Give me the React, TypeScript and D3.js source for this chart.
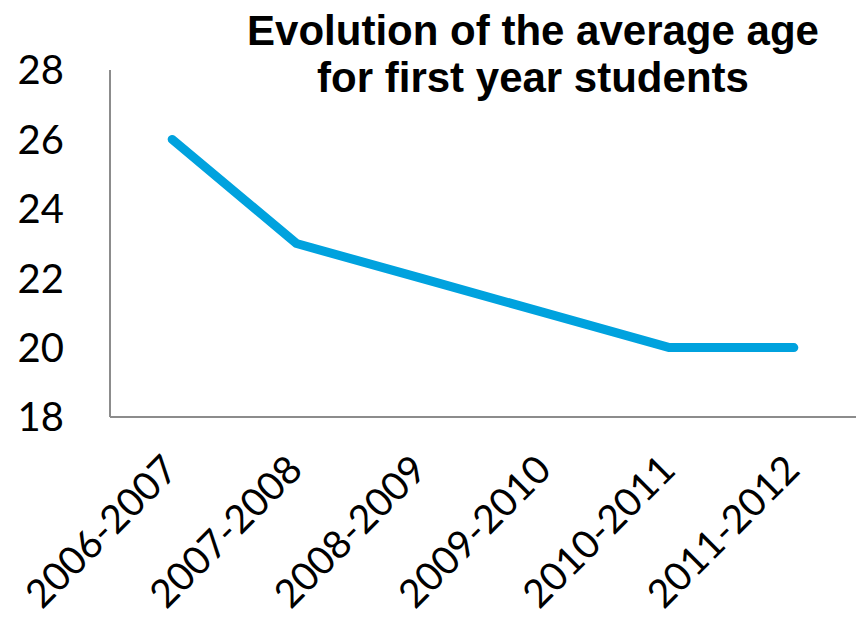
import * as d3 from 'd3'

const seasons = ['2006-2007', '2007-2008', '2008-2009', '2009-2010', '2010-2011', '2011-2012']
const averageAge = [26, 23, 22, 21, 20, 20]
const yTicks = [18, 20, 22, 24, 26, 28]
const titleLines = ['Evolution of the average age', 'for first year students']

export default function App() {
  const width = 856
  const height = 627
  const plot = { left: 110, right: 856, top: 70, bottom: 417 }

  const x = d3.scaleBand<string>().domain(seasons).range([plot.left, plot.right])
  const y = d3.scaleLinear().domain([18, 28]).range([plot.bottom, plot.top])

  const line = d3
    .line<number>()
    .x((_, i) => (x(seasons[i]) ?? 0) + x.bandwidth() / 2)
    .y((d) => y(d))

  const tickFont = 'Lato, "Open Sans", sans-serif'

  return (
    <svg
      width={width}
      height={height}
      style={{ position: 'absolute', left: 0, top: 0, background: '#fff' }}
    >
      {titleLines.map((t, i) => (
        <text
          key={t}
          x={533}
          y={45 + i * 47}
          textAnchor="middle"
          fontFamily='"Liberation Sans", Arial, sans-serif'
          fontWeight="bold"
          fontSize={42}
          fill="#000"
        >
          {t}
        </text>
      ))}

      {yTicks.map((tick) => (
        <text
          key={tick}
          x={64}
          y={y(tick)}
          dy="0.36em"
          textAnchor="end"
          fontFamily={tickFont}
          fontSize={40}
          fill="#000"
        >
          {tick}
        </text>
      ))}

      <line x1={plot.left} x2={plot.left} y1={plot.top} y2={plot.bottom} stroke="#8c8c8c" strokeWidth={2} />
      <line x1={plot.left} x2={plot.right} y1={plot.bottom} y2={plot.bottom} stroke="#8c8c8c" strokeWidth={2} />

      {seasons.map((s) => {
        const cx = (x(s) ?? 0) + x.bandwidth() / 2
        return (
          <text
            key={s}
            transform={`translate(${cx + 8}, 472) rotate(-45)`}
            textAnchor="end"
            fontFamily={tickFont}
            fontSize={39}
            fill="#000"
          >
            {s}
          </text>
        )
      })}

      <path
        d={line(averageAge) ?? ''}
        fill="none"
        stroke="#00a2de"
        strokeWidth={9}
        strokeLinecap="round"
        strokeLinejoin="round"
      />
    </svg>
  )
}
